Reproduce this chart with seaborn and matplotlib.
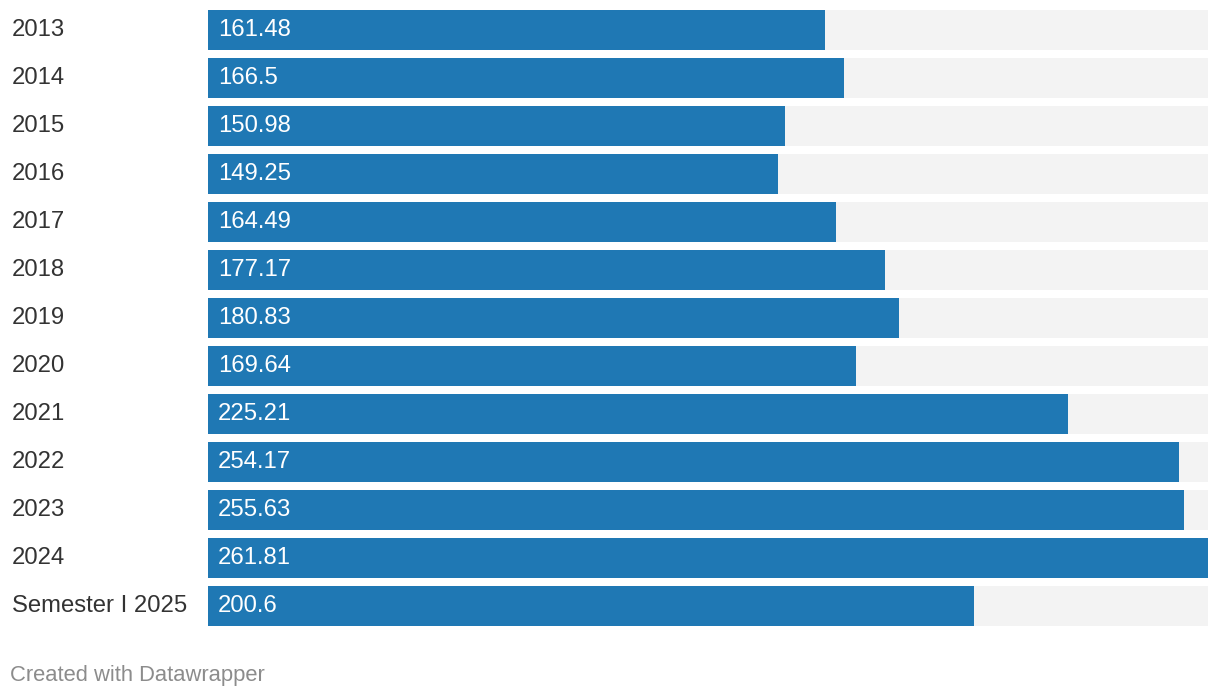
import pandas as pd
import seaborn as sns
from matplotlib import pyplot as plt

categories = ["2013", "2014", "2015", "2016", "2017", "2018", "2019",
              "2020", "2021", "2022", "2023", "2024", "Semester I 2025"]
values = [161.48, 166.5, 150.98, 149.25, 164.49, 177.17, 180.83,
          169.64, 225.21, 254.17, 255.63, 261.81, 200.6]
value_labels = ["161.48", "166.5", "150.98", "149.25", "164.49", "177.17", "180.83",
                "169.64", "225.21", "254.17", "255.63", "261.81", "200.6"]

df = pd.DataFrame({"category": categories, "value": values})
df["full"] = max(values)

sns.set_theme(style="white")
plt.rcParams["font.family"] = ["Liberation Sans", "DejaVu Sans"]

fig = plt.figure(figsize=(12.2, 6.98), dpi=100)
ax = fig.add_axes([208 / 1220, 1 - 630 / 698, 1000 / 1220, 624 / 698])

# grey track behind each bar
sns.barplot(data=df, y="category", x="full", orient="h", color="#f3f3f3",
            width=40 / 48, saturation=1, linewidth=0, ax=ax)
sns.barplot(data=df, y="category", x="value", orient="h", color="#1f78b4",
            width=40 / 48, saturation=1, linewidth=0, ax=ax)

ax.set_xlim(0, max(values))
ax.set_ylim(len(categories) - 0.5, -0.5)
ax.set_xlabel("")
ax.set_ylabel("")
ax.set_xticks([])
ax.set_yticks([])
sns.despine(ax=ax, left=True, bottom=True)

for i, (cat, lab) in enumerate(zip(categories, value_labels)):
    ax.annotate(lab, xy=(0, i), xytext=(10, 0), textcoords="offset pixels",
                va="center", ha="left", color="white", fontsize=17.2)
    ax.annotate(cat, xy=(0, i), xycoords=("figure pixels", "data"),
                xytext=(12, 0), textcoords="offset pixels",
                va="center", ha="left", color="#333333", fontsize=17.2)

fig.text(10 / 1220, 1 - 675 / 698, "Created with Datawrapper", color="#8c8c8c",
         fontsize=15.8, va="center", ha="left")

fig.savefig("out.png", dpi=100)
